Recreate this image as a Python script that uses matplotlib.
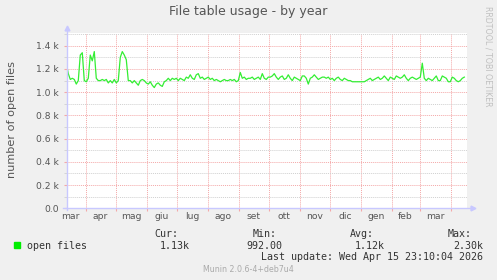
import matplotlib
matplotlib.use('Agg')
import matplotlib.pyplot as plt
import matplotlib.dates as mdates
from matplotlib.ticker import FixedLocator, FixedFormatter, MultipleLocator, FuncFormatter
import pandas as pd

# open files, sampled every 2 days starting 2025-03-12 (values in thousands)
series_start = '2025-03-12'
open_files_k = [
    1.25, 1.16, 1.11, 1.12, 1.11, 1.07, 1.10, 1.32, 1.34, 1.10,
    1.09, 1.12, 1.32, 1.27, 1.35, 1.12, 1.10, 1.10, 1.11, 1.10,
    1.11, 1.08, 1.10, 1.08, 1.11, 1.08, 1.10, 1.30, 1.35, 1.32,
    1.28, 1.10, 1.10, 1.08, 1.10, 1.08, 1.06, 1.10, 1.11, 1.10,
    1.08, 1.07, 1.09, 1.06, 1.04, 1.07, 1.08, 1.06, 1.05, 1.09,
    1.10, 1.12, 1.10, 1.12, 1.11, 1.12, 1.10, 1.12, 1.11, 1.10,
    1.13, 1.12, 1.15, 1.12, 1.11, 1.15, 1.16, 1.12, 1.13, 1.11,
    1.12, 1.13, 1.11, 1.12, 1.10, 1.11, 1.10, 1.09, 1.10, 1.11,
    1.10, 1.10, 1.11, 1.10, 1.11, 1.09, 1.10, 1.17, 1.12, 1.13,
    1.11,
    1.12, 1.12, 1.13, 1.11, 1.12, 1.13, 1.11, 1.16, 1.12, 1.11,
    1.13, 1.13, 1.14, 1.16, 1.13, 1.11, 1.13, 1.14, 1.11, 1.12,
    1.15, 1.12, 1.10, 1.13, 1.12, 1.11, 1.10, 1.14, 1.14, 1.12,
    1.07, 1.12, 1.13, 1.15, 1.13, 1.11, 1.12, 1.13, 1.13, 1.12,
    1.13, 1.11, 1.12, 1.10, 1.12, 1.13, 1.11, 1.10, 1.12, 1.11,
    1.10, 1.10, 1.09, 1.09, 1.09, 1.09, 1.09, 1.09, 1.09, 1.10,
    1.11, 1.12, 1.10, 1.11, 1.12, 1.13, 1.11, 1.12, 1.14, 1.12,
    1.10, 1.13, 1.12, 1.11, 1.14, 1.13, 1.12, 1.13, 1.15, 1.12,
    1.10, 1.12, 1.13, 1.12, 1.11, 1.12, 1.13, 1.25, 1.12, 1.10,
    1.12, 1.11, 1.10, 1.12, 1.14, 1.10, 1.10, 1.14, 1.13, 1.12,
    1.09, 1.09, 1.13, 1.12, 1.10, 1.09, 1.10, 1.12, 1.13,
]

month_label_dates = ['2025-03-16', '2025-04-15', '2025-05-16', '2025-06-15', '2025-07-16',
                     '2025-08-16', '2025-09-15', '2025-10-16', '2025-11-15', '2025-12-16',
                     '2026-01-16', '2026-02-14', '2026-03-16']
month_labels = ['mar', 'apr', 'mag', 'giu', 'lug', 'ago', 'set', 'ott', 'nov', 'dic',
                'gen', 'feb', 'mar']

legend_heads = ['Cur:', 'Min:', 'Avg:', 'Max:']
legend_vals = ['1.13k', '992.00', '1.12k', '2.30k']

W, H = 497, 280
fig = plt.figure(figsize=(W / 100, H / 100), dpi=100, facecolor='#f0f0f0')
ax = fig.add_axes([66.7 / W, 1 - 208.3 / H, 400.3 / W, 175.3 / H])
ax.set_facecolor('white')

line_col = '#33ee33'
dates = pd.date_range(series_start, periods=len(open_files_k), freq='2D')
ax.plot(dates, [v * 1000 for v in open_files_k], color=line_col, lw=0.9, zorder=3)

ax.set_xlim(pd.Timestamp('2025-03-12 10:00'), pd.Timestamp('2026-04-16 17:00'))
ax.set_ylim(0, 1510)

# grid
pink = '#f4a8a8'
grey = '#d0d0d0'
ax.yaxis.set_major_locator(MultipleLocator(200))
ax.yaxis.set_minor_locator(MultipleLocator(100))
ax.yaxis.set_major_formatter(FuncFormatter(lambda v, p: '0.0' if v == 0 else f'{v/1000:.1f} k'))
ax.xaxis.set_major_locator(mdates.MonthLocator())
ax.xaxis.set_major_formatter(FixedFormatter([]))
ax.xaxis.set_minor_locator(FixedLocator(mdates.date2num(pd.to_datetime(month_label_dates))))
ax.xaxis.set_minor_formatter(FixedFormatter(month_labels))
ax.set_axisbelow(True)
ax.grid(which='major', axis='both', color=pink, ls=(0, (1, 1)), lw=0.7)
ax.grid(which='minor', axis='y', color=grey, ls=(0, (1, 1)), lw=0.7)

ax.tick_params(axis='y', which='major', length=2.5, color=pink, labelsize=6.6,
               labelcolor='#555555', pad=3)
ax.tick_params(axis='y', which='minor', length=2, color=grey)
ax.tick_params(axis='x', which='major', length=2.5, color=pink, labelsize=0)
ax.tick_params(axis='x', which='minor', length=0, labelsize=6.6, labelcolor='#555555', pad=2.5)

for s in ax.spines.values():
    s.set_visible(False)

axis_col = '#c8c8ff'
ax.plot([0, 0], [-0.01, 1.02], transform=ax.transAxes, color=axis_col, lw=1, clip_on=False, zorder=4)
ax.plot([-0.008, 1.012], [0, 0], transform=ax.transAxes, color=axis_col, lw=1, clip_on=False, zorder=4)
ax.plot([0], [1.03], marker='^', ms=3.5, color=axis_col, transform=ax.transAxes, clip_on=False)
ax.plot([1.015], [0], marker='>', ms=3.5, color=axis_col, transform=ax.transAxes, clip_on=False)

fig.text(12 / W, 1 - 120 / H, 'number of open files', rotation=90, ha='center', va='center',
         fontsize=8.1, color='#555555')
fig.text(248.5 / W, 1 - 12 / H, 'File table usage - by year', ha='center', va='center',
         fontsize=9, color='#555555')
fig.text(488 / W, 1 - 56 / H, 'RRDTOOL / TOBI OETIKER', rotation=270, ha='center', va='center',
         fontsize=5.7, color='#c0c0c0')

# legend block
mono = 'DejaVu Sans Mono'
fig.patches.append(plt.Rectangle((14 / W, 1 - 247.7 / H), 6 / W, 5.4 / H,
                                 transform=fig.transFigure, color='#00ee00'))
fig.text(26.7 / W, 1 - 245.7 / H, 'open files', family=mono, fontsize=7.2, color='#333333', va='center')
for hx, txt in zip([154.3, 252.3, 350, 447.3], legend_heads):
    fig.text(hx / W, 1 - 234 / H, txt, family=mono, fontsize=7.2, color='#333333', va='center')
for vx, txt in zip([190, 282.7, 385, 483.3], legend_vals):
    fig.text(vx / W, 1 - 245.7 / H, txt, family=mono, fontsize=7.2, color='#333333',
             va='center', ha='right')
fig.text(483.3 / W, 1 - 257.3 / H, 'Last update: Wed Apr 15 23:10:04 2026', family=mono,
         fontsize=7.2, color='#333333', va='center', ha='right')
fig.text(248.8 / W, 1 - 269.3 / H, 'Munin 2.0.6-4+deb7u4', fontsize=5.7, color='#aaaaaa',
         ha='center', va='center')

fig.savefig('out.png', dpi=100, facecolor=fig.get_facecolor())
